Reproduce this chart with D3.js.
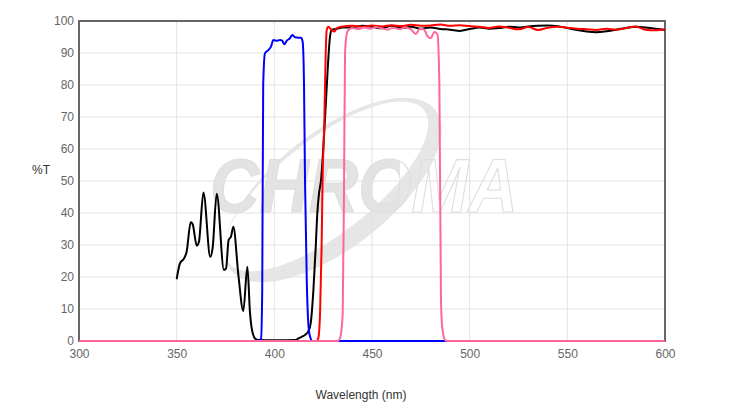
<!DOCTYPE html>
<html>
<head>
<meta charset="utf-8">
<script src="https://cdn.jsdelivr.net/npm/d3@7"></script>
<style>
  body { margin: 0; background: #fff; }
  text { font-family: "Liberation Sans", Arial, sans-serif; }
</style>
</head>
<body>
<svg id="chart" width="753" height="409"></svg>
<script>
// tick labels
var xTicks = [300, 350, 400, 450, 500, 550, 600];
var yTicks = [0, 10, 20, 30, 40, 50, 60, 70, 80, 90, 100];

// black curve
var blackWl = [350, 351.7, 353.8, 355.1, 357.2, 358.2, 360.3, 361.4, 363.7, 367.2, 368.4, 370.5, 374.2, 375.3, 376.6, 377.8, 379, 381.6, 384.1, 386.2, 387.5, 388.4, 390.1, 391.8, 400, 411, 412.3, 414, 415.7, 417.4, 418.6, 420, 421.2, 422, 422.9, 423.9, 425.9, 427.3, 428.5, 429.4, 432, 435, 440, 445, 450, 455, 460, 465, 470, 475, 480, 485, 490, 495, 500, 505, 510, 515, 520, 525, 530, 535, 540, 545, 550, 555, 560, 565, 570, 575, 580, 585, 590, 595, 600];
var blackT = [19.3, 24.3, 25.8, 27.9, 37.1, 36.5, 29.8, 31, 46.4, 26.3, 29, 46, 22.2, 22.7, 31.6, 32.6, 35.7, 20.6, 9.4, 23.2, 9.2, 4, 0.8, 0.3, 0.2, 0.3, 0.8, 1.3, 1.9, 3, 5.5, 15.9, 29.5, 39.9, 46.2, 50.3, 69, 84.7, 95.1, 97.2, 97.6, 98, 98, 98.5, 98.2, 97.7, 98.5, 97.8, 98.2, 97.6, 98, 97.5, 97.3, 96.9, 97.5, 98, 97.6, 97.8, 98.2, 98, 98.3, 98.5, 98.6, 98.4, 97.8, 97.2, 96.7, 96.5, 96.8, 97.3, 97.8, 98.2, 98, 97.6, 97.2];

// blue curve
var blueWl = [300, 391.5, 393.2, 393.8, 394.3, 395.2, 396.9, 398.3, 399.5, 401.2, 402.9, 404.1, 405.1, 406.3, 408, 409.2, 410.6, 412.3, 413.7, 414.5, 415.2, 415.7, 416.6, 417.4, 418.3, 419.5, 600];
var blueT = [0, 0, 0.8, 15.9, 80, 89.9, 90.9, 92, 94.1, 93.8, 94.1, 93.8, 92.7, 93.8, 94.6, 95.6, 94.9, 94.8, 94.8, 93.5, 80, 50.3, 19, 5.5, 1.3, 0, 0];

// red curve
var redWl = [300, 421.5, 422.5, 423.4, 424.2, 424.7, 425.6, 426.3, 426.8, 427.6, 429.4, 430.7, 431.9, 434.5, 440, 445, 450, 455, 460, 465, 470, 475, 480, 485, 490, 495, 500, 505, 510, 515, 520, 525, 530, 535, 540, 545, 550, 555, 560, 565, 570, 575, 580, 585, 590, 595, 600];
var redT = [0, 0, 0.9, 8.6, 29.5, 50.3, 69, 89.9, 97.2, 98.2, 97.2, 96.7, 97.7, 98.2, 98.5, 98.2, 98.6, 98.3, 98.7, 98.4, 98.8, 98.5, 98.6, 98.9, 98.5, 98.7, 98.4, 98.2, 97.8, 98.3, 97.9, 97.4, 98.1, 97.2, 97.9, 98.2, 97.9, 97.6, 97.4, 97.2, 97.6, 97.3, 97.8, 98.3, 97.3, 97.1, 97.4];

// pink curve
var pinkWl = [300, 432.5, 433.6, 435, 435.7, 436.2, 437.1, 437.9, 440, 443, 446, 449, 452, 455, 458, 461, 464, 467, 470, 472.5, 474.5, 476.5, 478.5, 480, 482, 483.5, 484.5, 485.3, 486, 487.4, 488.5, 600];
var pinkT = [0, 0, 0.8, 8.6, 50.3, 89.9, 96.1, 97.2, 97.8, 97.5, 98, 97.6, 98.1, 97.7, 97.3, 97.9, 97.5, 98, 97.4, 95.9, 97.6, 97.4, 95.2, 94.6, 96.6, 95.8, 80, 13, 4, 0.3, 0, 0];

var width = 753, height = 409;
var margin = {left: 79, right: 88, top: 21, bottom: 68};

var svg = d3.select("#chart");

var x = d3.scaleLinear().domain([300, 600]).range([margin.left, width - margin.right]);
var y = d3.scaleLinear().domain([0, 100]).range([height - margin.bottom, margin.top]);

// watermark: "CHRO" filled, "MA" outlined, one text element
var grad = svg.append("defs").append("linearGradient")
  .attr("id", "wmfill")
  .attr("gradientUnits", "userSpaceOnUse")
  .attr("x1", 396).attr("x2", 404).attr("y1", 0).attr("y2", 0);
grad.append("stop").attr("offset", "0%").attr("stop-color", "#e3e3e3");
grad.append("stop").attr("offset", "50%").attr("stop-color", "#e3e3e3");
grad.append("stop").attr("offset", "50%").attr("stop-color", "#ffffff").attr("stop-opacity", 0);
grad.append("stop").attr("offset", "100%").attr("stop-color", "#ffffff").attr("stop-opacity", 0);

var wm = svg.append("g").attr("class", "watermark");
wm.append("path")
  .attr("transform", "translate(333,190) rotate(-38)")
  .attr("fill-rule", "evenodd")
  .attr("fill", "#e6e6e6")
  .attr("d", "M -130 0 A 130 58 0 1 0 130 0 A 130 58 0 1 0 -130 0 Z " +
             "M -127 -7 A 124 47 0 1 0 121 -7 A 124 47 0 1 0 -127 -7 Z");
wm.append("text")
  .attr("x", 210).attr("y", 212)
  .attr("textLength", 308).attr("lengthAdjust", "spacingAndGlyphs")
  .style("font-size", "76px").style("font-weight", "bold").style("font-style", "italic")
  .attr("fill", "url(#wmfill)").attr("stroke", "#dedede").attr("stroke-width", 1.2)
  .text("CHROMA");

// grid
svg.append("g")
  .selectAll("line.v")
  .data(xTicks)
  .join("line")
  .attr("x1", d => x(d)).attr("x2", d => x(d))
  .attr("y1", y(0)).attr("y2", y(100))
  .attr("stroke", "#e2e2e2").attr("stroke-width", 1);
svg.append("g")
  .selectAll("line.h")
  .data(yTicks)
  .join("line")
  .attr("x1", x(300)).attr("x2", x(600))
  .attr("y1", d => y(d)).attr("y2", d => y(d))
  .attr("stroke", "#e2e2e2").attr("stroke-width", 1);

// axes labels
var xAxis = d3.axisBottom(x).tickValues(xTicks).tickSize(0).tickPadding(8);
var gx = svg.append("g").attr("transform", "translate(0," + y(0) + ")").call(xAxis);
gx.select(".domain").remove();
gx.selectAll("text").attr("fill", "#666").style("font-size", "12px").style("font-family", "'Liberation Sans', Arial, sans-serif");

var yAxis = d3.axisLeft(y).tickValues(yTicks).tickSize(0).tickPadding(5);
var gy = svg.append("g").attr("transform", "translate(" + x(300) + ",0)").call(yAxis);
gy.select(".domain").remove();
gy.selectAll("text").attr("fill", "#666").style("font-size", "12px").style("font-family", "'Liberation Sans', Arial, sans-serif");

// frame
svg.append("rect")
  .attr("x", x(300)).attr("y", y(100))
  .attr("width", x(600) - x(300)).attr("height", y(0) - y(100))
  .attr("fill", "none").attr("stroke", "#666").attr("stroke-width", 2);

// curves
var line = d3.line()
  .x(d => x(d[0]))
  .y(d => y(d[1]))
  .curve(d3.curveMonotoneX);

var series = [
  {wl: blackWl, t: blackT, color: "#000000"},
  {wl: blueWl, t: blueT, color: "#0000ff"},
  {wl: redWl, t: redT, color: "#ff0000"},
  {wl: pinkWl, t: pinkT, color: "#ff6699"}
];

svg.append("g")
  .selectAll("path")
  .data(series)
  .join("path")
  .attr("d", s => line(d3.zip(s.wl, s.t)))
  .attr("fill", "none")
  .attr("stroke", s => s.color)
  .attr("stroke-width", 2)
  .attr("stroke-linejoin", "round");

// titles
svg.append("text")
  .attr("x", 41).attr("y", 174)
  .attr("text-anchor", "middle")
  .attr("fill", "#333")
  .style("font-size", "12px")
  .text("%T");

svg.append("text")
  .attr("x", 361).attr("y", 399)
  .attr("text-anchor", "middle")
  .attr("fill", "#333")
  .style("font-size", "12px")
  .text("Wavelength (nm)");
</script>
</body>
</html>
